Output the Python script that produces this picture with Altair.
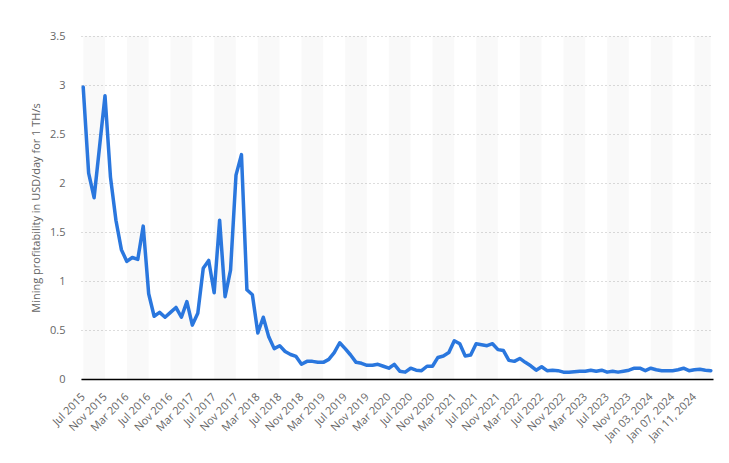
import altair as alt
import pandas as pd

months = ["Jan", "Feb", "Mar", "Apr", "May", "Jun", "Jul", "Aug", "Sep", "Oct", "Nov", "Dec"]

# Categories: monthly Jul 2015 - Dec 2023, then daily Jan 01 - Jan 14, 2024
categories = []
for k in range(102):
    m = (6 + k) % 12
    yr = 2015 + (6 + k) // 12
    categories.append(f"{months[m]} {yr}")
for d in range(1, 15):
    categories.append(f"Jan {d:02d}, 2024")

values = [
    2.98, 2.10, 1.85, 2.37, 2.89, 2.06, 1.62, 1.32, 1.20, 1.24,
    1.22, 1.56, 0.87, 0.64, 0.68, 0.63, 0.68, 0.73, 0.63, 0.79,
    0.55, 0.67, 1.13, 1.21, 0.88, 1.62, 0.84, 1.11, 2.08, 2.29,
    0.91, 0.86, 0.47, 0.63, 0.43, 0.31, 0.34, 0.28, 0.25, 0.23,
    0.15, 0.18, 0.18, 0.17, 0.17, 0.20, 0.27, 0.37, 0.31, 0.245,
    0.17, 0.16, 0.14, 0.14, 0.15, 0.13, 0.11, 0.15, 0.08, 0.07,
    0.11, 0.09, 0.085, 0.13, 0.13, 0.22, 0.235, 0.27, 0.39, 0.36,
    0.235, 0.245, 0.36, 0.35, 0.34, 0.36, 0.30, 0.29, 0.19, 0.18,
    0.21, 0.17, 0.135, 0.09, 0.125, 0.085, 0.09, 0.085, 0.07, 0.07,
    0.075, 0.08, 0.08, 0.09, 0.08, 0.09, 0.07, 0.08, 0.07, 0.08,
    0.09, 0.11, 0.11, 0.085, 0.11, 0.095, 0.085, 0.085, 0.085, 0.095,
    0.11, 0.085, 0.095, 0.10, 0.09, 0.085,
]

tick_labels = categories[0:113:4]
y_ticks = [0, 0.5, 1, 1.5, 2, 2.5, 3, 3.5]

stripe_starts = tick_labels[0::2]
stripe_ends = tick_labels[1::2] + [categories[-1]]

df = pd.DataFrame({"cat": categories, "value": values})
stripes = pd.DataFrame({"start": stripe_starts, "end": stripe_ends})

FONT = "Open Sans"

x_scale = alt.Scale(type="point", domain=categories, padding=0.4)
x_axis = alt.Axis(
    values=tick_labels,
    labelAngle=-45,
    labelAlign="right",
    labelBaseline="middle",
    labelPadding=16,
    labelFontSize=11,
    labelColor="#666666",
    labelFont=FONT,
    ticks=False,
    grid=False,
    domainColor="#000000",
    domainWidth=1.5,
    labelOverlap=False,
    title=None,
)

band = alt.Chart(stripes).mark_rect(color="#000000", opacity=0.022).encode(
    x=alt.X("start:O", scale=x_scale, axis=x_axis),
    x2="end:O",
)

line = alt.Chart(df).mark_line(
    color="#2a77de", strokeWidth=3.5, strokeJoin="round", strokeCap="round"
).encode(
    x=alt.X("cat:O", scale=x_scale, axis=x_axis, sort=None),
    y=alt.Y(
        "value:Q",
        scale=alt.Scale(domain=[0, 3.5], nice=False),
        axis=alt.Axis(
            values=y_ticks,
            format="~g",
            title="Mining profitability in USD/day for 1 TH/s",
            titleFont=FONT,
            titleFontSize=11,
            titleFontWeight="normal",
            titleColor="#666666",
            titlePadding=8,
            labelFont=FONT,
            labelFontSize=11,
            labelColor="#666666",
            labelPadding=16,
            ticks=False,
            domain=False,
            grid=True,
            gridColor="#bbbbbb",
            gridDash=[1, 3],
            gridWidth=1,
        ),
    ),
)

chart = (
    alt.layer(band, line)
    .properties(
        width=632,
        height=343,
        autosize=alt.AutoSizeParams(type="none"),
        padding={"left": 73, "top": 28, "right": 8, "bottom": 70},
        background="#ffffff",
    )
    .configure_view(stroke=None)
)

chart.save("out.html", embed_options={"renderer": "svg", "actions": False})
